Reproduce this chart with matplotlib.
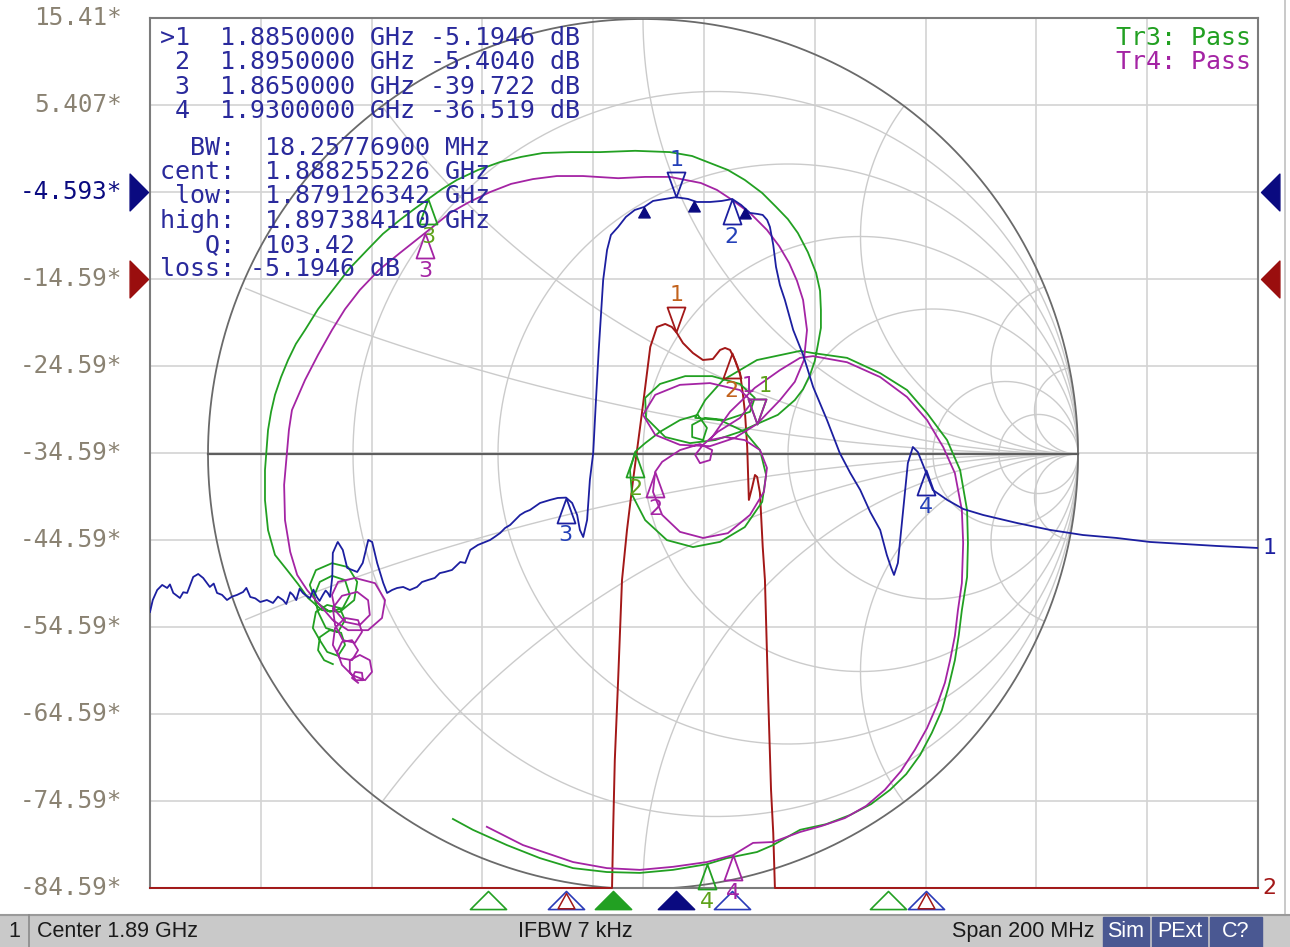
import numpy as np
import matplotlib
matplotlib.use("Agg")
import matplotlib.pyplot as plt
import matplotlib.transforms as mtransforms
from matplotlib.path import Path
from matplotlib.patches import Rectangle
from matplotlib.lines import Line2D

plt.rcParams['font.family'] = ['DejaVu Sans']

W, H = 1290, 947

# stimulus / scale (center 1.89 GHz, span 200 MHz, 10 dB/div)
f_start, f_stop = 1790.0, 1990.0
y_top, y_bot = 15.407, -84.593
ref_tr1 = -4.593
ref_tr2 = -14.593
y_labels = ["15.41*", "5.407*", "-4.593*", "-14.59*", "-24.59*", "-34.59*",
            "-44.59*", "-54.59*", "-64.59*", "-74.59*", "-84.59*"]

# Tr1 (log mag, MHz / dB)
blue_f = [1790.0, 1790.5, 1791.3, 1792.2, 1793.1, 1793.6, 1794.2, 1795.4, 1796.0, 1796.7,
          1797.8, 1798.7, 1799.6, 1800.8, 1801.5, 1802.1, 1803.0, 1803.9, 1804.8, 1805.7,
          1806.8, 1807.4, 1808.1, 1809.0, 1809.9, 1811.1, 1812.2, 1813.1, 1814.0, 1814.6,
          1815.3, 1815.8, 1816.4, 1817.0, 1817.6, 1818.2, 1818.9, 1819.5, 1820.1, 1820.6,
          1821.2, 1821.7, 1822.1, 1822.5, 1822.9, 1823.0, 1823.8, 1823.9, 1824.8, 1825.6,
          1826.5, 1827.4, 1828.4, 1829.4, 1830.1, 1831.0, 1832.1, 1832.8, 1833.7, 1834.6,
          1835.7, 1836.9, 1838.2, 1839.1, 1840.2, 1841.4, 1842.3, 1843.2, 1844.5, 1846.0,
          1846.9, 1847.8, 1849.2, 1850.5, 1851.4, 1852.3, 1853.2, 1854.1, 1855.0, 1856.8,
          1857.7, 1858.6, 1860.4, 1862.2, 1863.6, 1865.1, 1866.2, 1867.1, 1867.6, 1868.2,
          1868.9, 1869.4, 1870.0, 1870.5, 1871.0, 1871.8, 1872.5, 1873.2, 1874.5, 1875.9,
          1877.5, 1879.2, 1880.8, 1883.0, 1884.9, 1887.1, 1888.7, 1891.1, 1893.2, 1895.1,
          1896.7, 1898.3, 1899.7, 1900.6, 1901.4, 1901.9, 1902.5, 1903.0, 1903.7, 1904.6,
          1906.1, 1907.9, 1909.7, 1912.2, 1914.5, 1916.4, 1918.2, 1920.0, 1921.8, 1923.0,
          1923.8, 1924.3, 1925.0, 1925.9, 1926.8, 1927.7, 1928.6, 1929.9, 1931.3, 1933.9,
          1936.8, 1940.4, 1946.5, 1952.5, 1958.4, 1964.5, 1970.5, 1976.5, 1982.6, 1990.0]
blue_db = [-52.87, -51.49, -50.34, -49.76, -50.11, -49.70, -50.68, -51.26, -50.60, -50.68,
           -48.84, -48.50, -48.96, -49.99, -49.60, -50.68, -50.90, -51.49, -51.10, -50.91,
           -50.57, -50.10, -51.14, -51.30, -51.72, -51.49, -51.83, -51.10, -51.49, -51.95,
           -50.60, -50.91, -51.50, -50.20, -50.68, -51.00, -51.26, -50.30, -51.14, -51.60,
           -50.91, -50.40, -50.68, -51.14, -48.84, -46.08, -44.93, -44.82, -45.74, -47.81,
           -48.04, -48.27, -47.23, -44.59, -44.82, -47.23, -49.53, -50.68, -50.34, -50.11,
           -49.99, -50.34, -49.99, -49.42, -49.19, -48.96, -48.40, -48.27, -48.04, -47.12,
           -47.23, -45.74, -45.16, -44.82, -44.59, -44.20, -43.79, -43.21, -42.87, -41.72,
           -41.37, -41.14, -40.34, -39.99, -39.76, -39.72, -40.34, -41.72, -43.44, -44.25,
           -42.29, -37.69, -34.59, -28.50, -22.75, -14.70, -11.26, -9.53, -8.61, -7.46,
           -6.66, -6.31, -5.62, -5.39, -5.19, -5.39, -5.74, -5.74, -5.62, -5.40,
           -6.08, -7.00, -7.12, -7.23, -7.81, -8.61, -10.68, -13.21, -15.28, -17.00,
           -20.45, -23.33, -27.00, -30.80, -34.59, -36.89, -38.84, -41.37, -43.44, -46.31,
           -47.81, -48.61, -47.23, -41.49, -35.74, -33.90, -34.48, -36.54, -38.84, -39.99,
           -41.03, -41.72, -42.64, -43.44, -44.02, -44.36, -44.82, -45.05, -45.28, -45.51]

# Tr2 (log mag, clipped at the bottom of the scale)
red_f = [1790.0, 1873.4, 1873.6, 1873.9, 1874.5, 1875.2, 1876.1, 1877.2, 1878.8, 1880.3,
         1881.5, 1883.0, 1884.2, 1885.1, 1886.2, 1888.0, 1889.8, 1891.6, 1892.9, 1893.8,
         1894.7, 1895.6, 1896.5, 1897.0, 1897.4, 1897.8, 1898.1, 1898.7, 1899.2, 1899.6,
         1900.1, 1900.6, 1901.0, 1901.6, 1902.1, 1902.5, 1902.8, 1990.0]
red_db = [-84.59, -84.59, -77.92, -69.88, -60.68, -49.19, -43.44, -37.69, -29.99, -22.41,
          -20.11, -19.76, -20.11, -20.80, -21.95, -23.10, -23.90, -23.79, -22.75, -22.52,
          -22.75, -23.90, -25.39, -27.69, -29.99, -33.90, -39.99, -38.50, -37.12, -37.35,
          -39.18, -45.39, -49.19, -62.98, -73.33, -78.27, -84.59, -84.59]

# Tr3 (Smith, reflection coefficient real / imag)
green_re = [-0.713, -0.733, -0.747, -0.743, -0.720, -0.694, -0.685, -0.701, -0.726, -0.743,
            -0.759, -0.752, -0.726, -0.697, -0.685, -0.701, -0.729, -0.747, -0.756, -0.743,
            -0.715, -0.685, -0.674, -0.690, -0.720, -0.752, -0.766, -0.752, -0.715, -0.678,
            -0.657, -0.664, -0.697, -0.738, -0.770, -0.793, -0.818, -0.846, -0.862, -0.869,
            -0.869, -0.862, -0.855, -0.846, -0.832, -0.816, -0.798, -0.777, -0.747, -0.713,
            -0.676, -0.634, -0.598, -0.559, -0.526, -0.494, -0.462, -0.428, -0.379, -0.329,
            -0.280, -0.230, -0.166, -0.099, -0.018, 0.062, 0.113, 0.154, 0.195, 0.234,
            0.274, 0.306, 0.333, 0.356, 0.379, 0.398, 0.407, 0.409, 0.409, 0.402,
            0.395, 0.384, 0.368, 0.349, 0.310, 0.262, 0.223, 0.166, 0.108, 0.051,
            0.007, 0.005, 0.039, 0.097, 0.159, 0.223, 0.257, 0.246, 0.189, 0.143,
            0.113, 0.113, 0.138, 0.147, 0.126, 0.085, 0.039, 0.005, -0.018, -0.030,
            -0.025, 0.005, 0.055, 0.115, 0.177, 0.234, 0.274, 0.283, 0.269, 0.234,
            0.177, 0.120, 0.143, 0.184, 0.262, 0.361, 0.391, 0.469, 0.545, 0.607,
            0.653, 0.699, 0.729, 0.745, 0.747, 0.745, 0.733, 0.726, 0.717, 0.703,
            0.687, 0.664, 0.637, 0.605, 0.568, 0.524, 0.476, 0.421, 0.361, 0.299,
            0.262, 0.193, 0.147, 0.069, -0.007, -0.083, -0.161, -0.237, -0.313, -0.391,
            -0.437]
green_im = [-0.483, -0.474, -0.451, -0.421, -0.405, -0.411, -0.439, -0.464, -0.455, -0.428,
            -0.400, -0.363, -0.347, -0.354, -0.382, -0.409, -0.400, -0.363, -0.326, -0.294,
            -0.280, -0.290, -0.324, -0.354, -0.363, -0.340, -0.301, -0.267, -0.251, -0.260,
            -0.294, -0.336, -0.363, -0.359, -0.331, -0.299, -0.267, -0.232, -0.175, -0.106,
            -0.037, 0.055, 0.097, 0.136, 0.177, 0.216, 0.253, 0.285, 0.333, 0.377,
            0.425, 0.469, 0.506, 0.538, 0.563, 0.586, 0.609, 0.630, 0.653, 0.671,
            0.683, 0.692, 0.694, 0.694, 0.697, 0.694, 0.685, 0.669, 0.653, 0.630,
            0.600, 0.568, 0.540, 0.508, 0.464, 0.416, 0.375, 0.331, 0.290, 0.251,
            0.214, 0.182, 0.149, 0.124, 0.090, 0.069, 0.051, 0.032, 0.025, 0.039,
            0.083, 0.129, 0.161, 0.179, 0.179, 0.161, 0.129, 0.097, 0.078, 0.083,
            0.067, 0.039, 0.032, 0.060, 0.090, 0.078, 0.051, 0.025, 0.005, -0.037,
            -0.094, -0.152, -0.198, -0.214, -0.202, -0.168, -0.110, -0.048, 0.009, 0.051,
            0.078, 0.083, 0.124, 0.170, 0.216, 0.237, 0.232, 0.221, 0.186, 0.147,
            0.094, 0.032, -0.037, -0.129, -0.205, -0.283, -0.359, -0.416, -0.474, -0.533,
            -0.589, -0.641, -0.692, -0.736, -0.772, -0.805, -0.830, -0.851, -0.864, -0.899,
            -0.915, -0.929, -0.943, -0.956, -0.963, -0.961, -0.952, -0.929, -0.899, -0.864,
            -0.839]

# Tr4 (Smith)
mag_re = [-0.655, -0.669, -0.662, -0.646, -0.644, -0.660, -0.674, -0.674, -0.651, -0.628,
          -0.623, -0.639, -0.669, -0.692, -0.703, -0.692, -0.669, -0.655, -0.669, -0.697,
          -0.713, -0.708, -0.685, -0.655, -0.646, -0.662, -0.690, -0.708, -0.713, -0.692,
          -0.657, -0.632, -0.628, -0.651, -0.685, -0.708, -0.715, -0.701, -0.662, -0.616,
          -0.593, -0.600, -0.632, -0.678, -0.713, -0.743, -0.772, -0.795, -0.811, -0.823,
          -0.825, -0.818, -0.814, -0.807, -0.777, -0.747, -0.715, -0.685, -0.651, -0.607,
          -0.559, -0.501, -0.444, -0.400, -0.352, -0.303, -0.253, -0.198, -0.138, -0.057,
          0.005, 0.062, 0.133, 0.170, 0.205, 0.248, 0.285, 0.313, 0.336, 0.354,
          0.368, 0.377, 0.370, 0.349, 0.315, 0.262, 0.211, 0.154, 0.085, 0.028,
          0.000, 0.028, 0.085, 0.154, 0.223, 0.251, 0.223, 0.172, 0.138, 0.120,
          0.131, 0.154, 0.159, 0.131, 0.085, 0.044, 0.028, 0.023, 0.044, 0.085,
          0.138, 0.195, 0.246, 0.278, 0.285, 0.269, 0.234, 0.189, 0.154, 0.200,
          0.257, 0.315, 0.361, 0.391, 0.469, 0.545, 0.607, 0.653, 0.690, 0.717,
          0.733, 0.736, 0.733, 0.724, 0.717, 0.706, 0.694, 0.676, 0.653, 0.625,
          0.593, 0.556, 0.513, 0.464, 0.411, 0.361, 0.299, 0.253, 0.207, 0.147,
          0.069, -0.007, -0.083, -0.161, -0.276, -0.359]
mag_im = [-0.526, -0.515, -0.501, -0.503, -0.520, -0.520, -0.501, -0.474, -0.462, -0.474,
          -0.501, -0.520, -0.508, -0.485, -0.455, -0.432, -0.428, -0.451, -0.474, -0.469,
          -0.439, -0.400, -0.377, -0.382, -0.409, -0.434, -0.428, -0.393, -0.354, -0.326,
          -0.317, -0.336, -0.370, -0.393, -0.386, -0.359, -0.324, -0.294, -0.285, -0.297,
          -0.336, -0.377, -0.405, -0.405, -0.382, -0.347, -0.313, -0.278, -0.225, -0.152,
          -0.071, 0.009, 0.055, 0.101, 0.170, 0.228, 0.285, 0.333, 0.377, 0.423,
          0.462, 0.508, 0.554, 0.579, 0.602, 0.621, 0.632, 0.639, 0.639, 0.634,
          0.637, 0.637, 0.623, 0.607, 0.584, 0.552, 0.515, 0.478, 0.439, 0.398,
          0.354, 0.285, 0.216, 0.166, 0.124, 0.069, 0.037, 0.018, 0.021, 0.044,
          0.090, 0.136, 0.159, 0.163, 0.147, 0.120, 0.083, 0.051, 0.021, -0.002,
          -0.021, -0.014, 0.009, 0.023, 0.009, -0.018, -0.041, -0.087, -0.140, -0.179,
          -0.193, -0.182, -0.140, -0.087, -0.032, 0.009, 0.032, 0.039, 0.032, 0.097,
          0.152, 0.193, 0.221, 0.225, 0.211, 0.177, 0.131, 0.078, 0.016, -0.044,
          -0.129, -0.205, -0.297, -0.359, -0.418, -0.474, -0.526, -0.577, -0.630, -0.680,
          -0.729, -0.772, -0.809, -0.837, -0.855, -0.869, -0.892, -0.894, -0.922, -0.938,
          -0.949, -0.956, -0.952, -0.938, -0.899, -0.857]

# markers 1..4
mk_f = [1885.0, 1895.0, 1865.0, 1930.0]
mk_blue_db = [-5.1946, -5.4040, -39.722, -36.519]
green_mk_idx = [85, 108, 55, 152]
mag_mk_idx = [85, 106, 61, 148]
bw_f = [1879.126342, 1888.255226, 1897.384110]
bw_lines = ["  BW:  18.25776900 MHz", "cent:  1.888255226 GHz", " low:  1.879126342 GHz",
            "high:  1.897384110 GHz", "   Q:  103.42", "loss: -5.1946 dB"]

# indicators drawn under the grid (marker positions of other traces)
ind_f = [1851.0, 1865.0, 1873.6, 1884.9, 1895.0, 1923.2, 1930.0]
ind_trace = ["g", "b", "g", "n", "b", "g", "b"]
ind_filled = [False, False, True, True, False, False, False]
red_off_f = [1865.0, 1930.0]

# smith grid values
smith_r = [0.2, 0.5, 1.0, 2.0, 5.0, 10.0]
smith_x = [0.2, 0.5, 1.0, 2.0, 5.0, 10.0]

c_blue = '#1c1fa0'
c_navy = '#0a0a80'
c_red = '#a31818'
c_green = '#22a022'
c_mag = '#a424a4'
c_grid = '#d3d3d3'
c_sgrid = '#cbcbcb'
c_lab = '#8a8272'
c_txt = '#2a2a9c'

fig = plt.figure(figsize=(W / 100, H / 100), dpi=100)
L, R, T, B = 150, 1258, 18, 888
rect = [L / W, 1 - B / H, (R - L) / W, (B - T) / H]
ax = fig.add_axes(rect)
ax.set_xlim(f_start, f_stop)
ax.set_ylim(y_bot, y_top)
ax.autoscale(False)
ax.set_xticks([])
ax.set_yticks([])
for sp in ax.spines.values():
    sp.set_color('#7c7c7c')
    sp.set_linewidth(1.5)

# smith chart coordinate frame on top of the rectangular one
sx = fig.add_axes(rect)
cx, cy, rad = 643, 454, 435
sx.set_xlim((L - cx) / rad, (R - cx) / rad)
sx.set_ylim((cy - B) / rad, (cy - T) / rad)
sx.axis('off')
st = sx.transData

for v in np.linspace(f_start, f_stop, 11)[1:-1]:
    ax.axvline(v, color=c_grid, lw=1.2, zorder=1)
for h in np.linspace(y_bot, y_top, 11)[1:-1]:
    ax.axhline(h, color=c_grid, lw=1.2, zorder=1)

tt = np.linspace(0, 2 * np.pi, 2001)
for r in smith_r:
    c, rr = r / (1 + r), 1 / (1 + r)
    ax.plot(c + rr * np.cos(tt), rr * np.sin(tt), color=c_sgrid, lw=1.0,
            transform=st, zorder=1.5)
for xv in smith_x:
    for s in (1, -1):
        rr = 1 / xv
        gx = 1 + rr * np.cos(tt)
        gy = s * rr + rr * np.sin(tt)
        m = gx ** 2 + gy ** 2 > 1.0001
        gx[m] = np.nan
        gy[m] = np.nan
        ax.plot(gx, gy, color=c_sgrid, lw=1.0, transform=st, zorder=1.5)
ax.plot(np.cos(tt), np.sin(tt), color='#6a6a6a', lw=1.3, transform=st, zorder=2)
ax.plot([-1, 1], [0, 0], color='#5e5e5e', lw=1.6, transform=st, zorder=2)

# y scale labels
ylab_tr = mtransforms.blended_transform_factory(ax.transAxes, ax.transData)
for i, lab in enumerate(y_labels):
    yv = y_top - 10 * i
    col = c_navy if abs(yv - ref_tr1) < 0.01 else c_lab
    ax.text(-0.0253, yv, lab, transform=ylab_tr, ha='right', va='center',
            fontsize=17.5, family='DejaVu Sans Mono', color=col, clip_on=False)

# traces
ax.plot(red_f, red_db, color=c_red, lw=1.4, zorder=3, clip_on=False)
ax.plot(green_re, green_im, color=c_green, lw=1.3, transform=st, zorder=3.5)
ax.plot(mag_re, mag_im, color=c_mag, lw=1.3, transform=st, zorder=3.6)
ax.plot(blue_f, blue_db, color=c_blue, lw=1.3, zorder=4)

codes = [Path.MOVETO, Path.LINETO, Path.LINETO, Path.CLOSEPOLY]
tri_up = Path([(0, 0), (-0.36, -1), (0.36, -1), (0, 0)], codes)
tri_dn = Path([(0, 0), (-0.36, 1), (0.36, 1), (0, 0)], codes)
tri_small = Path([(0, 0), (-0.55, -1), (0.55, -1), (0, 0)], codes)
tri_wide = Path([(0, 0), (-1, -1), (1, -1), (0, 0)], codes)
tri_right = Path([(0, 0), (-1, 1), (-1, -1), (0, 0)], codes)
tri_left = Path([(0, 0), (1, 1), (1, -1), (0, 0)], codes)


def marker(x, y, label, color, lcolor, tr, down=False, dx=0, fs=16):
    ax.plot([x], [y], marker=tri_dn if down else tri_up, ms=36, mfc='none',
            mec=color, mew=1.3, ls='none', transform=tr, clip_on=False, zorder=6)
    ax.annotate(label, (x, y), xycoords=tr, xytext=(dx, 27 if down else -27),
                textcoords='offset points', ha='center', va='center',
                color=lcolor, fontsize=fs, annotation_clip=False, zorder=7)


dt = ax.transData
for k in range(4):
    marker(mk_f[k], mk_blue_db[k], str(k + 1), c_blue, '#2440b8', dt, down=(k == 0))
red_mk_db = np.interp(mk_f[:2], red_f, red_db)
for k in range(2):
    marker(mk_f[k], red_mk_db[k], str(k + 1), c_red, '#c2621c', dt, down=(k == 0))
for k in range(4):
    i = green_mk_idx[k]
    marker(green_re[i], green_im[i], str(k + 1), c_green, '#5ea21a', st,
           down=(k == 0), dx=6 if k == 0 else 0, fs=15 if k == 0 else 16)
for k in range(4):
    i = mag_mk_idx[k]
    marker(mag_re[i], mag_im[i], str(k + 1), c_mag, c_mag, st,
           down=(k == 0), dx=-6 if k == 0 else 0, fs=15 if k == 0 else 16)

bw_db = np.interp(bw_f, blue_f, blue_db)
ax.plot(bw_f, bw_db, marker=tri_small, ms=15, color=c_navy, ls='none', zorder=6)

# off-scale indicators below the grid
bt = mtransforms.blended_transform_factory(ax.transData, ax.transAxes)
ind_col = {"g": c_green, "b": '#2a3ab8', "n": c_navy}
for f, t, filled in zip(ind_f, ind_trace, ind_filled):
    col = ind_col[t]
    ax.plot([f], [-0.0034], marker=tri_wide, ms=26, mec=col, mew=1.2,
            mfc=col if filled else 'none', ls='none', transform=bt, clip_on=False, zorder=6)
ax.plot(red_off_f, [-0.006] * 2, marker=tri_small, ms=22, mec=c_red, mfc='none',
        mew=1.1, ls='none', transform=bt, clip_on=False, zorder=6)

# reference position arrows
for ref, col in [(ref_tr1, c_navy), (ref_tr2, '#9a0e0e')]:
    ax.plot([-0.0018], [ref], marker=tri_right, ms=26.5, color=col, ls='none',
            transform=ylab_tr, clip_on=False, zorder=6)
    ax.plot([1.0027], [ref], marker=tri_left, ms=26.5, color=col, ls='none',
            transform=ylab_tr, clip_on=False, zorder=6)

# trace end labels
ax.annotate("1", (f_stop, blue_db[-1]), xytext=(3, 0), textcoords='offset points',
            ha='left', va='center', color=c_blue, fontsize=16, annotation_clip=False)
ax.annotate("2", (f_stop, red_db[-1]), xytext=(3, 0), textcoords='offset points',
            ha='left', va='center', color=c_red, fontsize=16, annotation_clip=False)


def px(x, y):
    return x / W, 1 - y / H


# marker table
mono = 'DejaVu Sans Mono'
for k in range(4):
    db = mk_blue_db[k]
    dbs = f"{db:.4f}" if abs(db) < 10 else f"{db:.3f}"
    line = f"{'>' if k == 0 else ' '}{k + 1}  {mk_f[k] / 1000:.7f} GHz {dbs} dB"
    fig.text(*px(160, 38 + 24.4 * k), line, family=mono, fontsize=18,
             color=c_txt, ha='left', va='center')
for k, line in enumerate(bw_lines):
    fig.text(*px(160, 148 + 24.2 * k), line, family=mono, fontsize=18,
             color=c_txt, ha='left', va='center')
fig.text(*px(1251, 38), "Tr3: Pass", family=mono, fontsize=18, color=c_green,
         ha='right', va='center')
fig.text(*px(1251, 62), "Tr4: Pass", family=mono, fontsize=18, color=c_mag,
         ha='right', va='center')

# window border on the right
fig.add_artist(Line2D([1285 / W, 1285 / W], [32 / H, 1], color='#c0c0c0', lw=1.2))

# status bar
fig.add_artist(Rectangle((0, 0), 1, 32 / H, transform=fig.transFigure,
                         color='#c9c9c9', zorder=10))
fig.add_artist(Line2D([0, 1], [32 / H, 32 / H], color='#9a9a9a', lw=1.5, zorder=11))
fig.add_artist(Line2D([29 / W, 29 / W], [0, 32 / H], color='#8a8a8a', lw=1.2, zorder=11))
sb = dict(family=['Liberation Sans', 'DejaVu Sans'], fontsize=15.5, va='center',
          color='#1a1a1a', zorder=12)
fig.text(*px(14, 931), "1", ha='center', **sb)
fig.text(*px(37, 931), "Center 1.89 GHz", ha='left', **sb)
fig.text(*px(575, 931), "IFBW 7 kHz", ha='center', **sb)
fig.text(*px(1094, 931), "Span 200 MHz", ha='right', **sb)
for x0, x1, lab in [(1103, 1149, "Sim"), (1152, 1207, "PExt"), (1210, 1262, "C?")]:
    fig.add_artist(Rectangle((x0 / W, 0), (x1 - x0) / W, 30 / H, transform=fig.transFigure,
                             color='#4a5892', zorder=11))
    fig.text(*px((x0 + x1) / 2, 931), lab, ha='center',
             **{**sb, 'color': 'white'})

fig.savefig("out.png", dpi=100)
